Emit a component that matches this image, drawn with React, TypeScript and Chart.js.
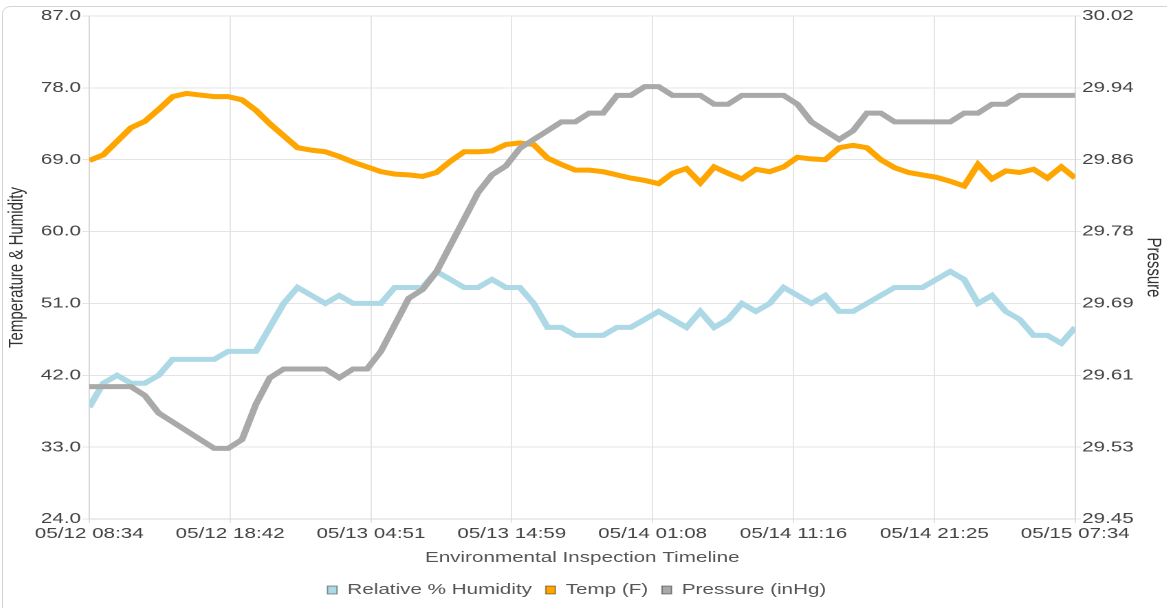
import React, { useEffect, useRef } from "react";
import { Chart, registerables } from "chart.js";

Chart.register(...registerables);

// Hourly readings, 05/12 08:34 .. 05/15 07:34
const humidity = [
  38, 41, 42, 41, 41, 42, 44, 44, 44, 44, 45, 45, 45, 48, 51, 53, 52, 51, 52, 51, 51, 51, 53, 53,
  53, 55, 54, 53, 53, 54, 53, 53, 51, 48, 48, 47, 47, 47, 48, 48, 49, 50, 49, 48, 50, 48, 49, 51,
  50, 51, 53, 52, 51, 52, 50, 50, 51, 52, 53, 53, 53, 54, 55, 54, 51, 52, 50, 49, 47, 47, 46, 48,
];

const temperature = [
  68.9, 69.6, 71.3, 73.0, 73.8, 75.3, 76.9, 77.3, 77.1, 76.9, 76.9, 76.5, 75.2, 73.5, 72.0, 70.5,
  70.2, 70.0, 69.4, 68.7, 68.1, 67.5, 67.2, 67.1, 66.9, 67.4, 68.8, 70.0, 70.0, 70.1, 70.9, 71.1,
  70.9, 69.2, 68.4, 67.7, 67.7, 67.5, 67.1, 66.7, 66.4, 66.0, 67.3, 67.9, 66.1, 68.1, 67.3, 66.6,
  67.8, 67.5, 68.1, 69.3, 69.1, 69.0, 70.5, 70.8, 70.5, 69.0, 68.0, 67.4, 67.1, 66.8, 66.3, 65.7,
  68.4, 66.6, 67.6, 67.4, 67.8, 66.7, 68.1, 66.7,
];

const pressure = [
  29.6, 29.6, 29.6, 29.6, 29.59, 29.57, 29.56, 29.55, 29.54, 29.53, 29.53, 29.54, 29.58, 29.61,
  29.62, 29.62, 29.62, 29.62, 29.61, 29.62, 29.62, 29.64, 29.67, 29.7, 29.71, 29.73, 29.76, 29.79,
  29.82, 29.84, 29.85, 29.87, 29.88, 29.89, 29.9, 29.9, 29.91, 29.91, 29.93, 29.93, 29.94, 29.94,
  29.93, 29.93, 29.93, 29.92, 29.92, 29.93, 29.93, 29.93, 29.93, 29.92, 29.9, 29.89, 29.88, 29.89,
  29.91, 29.91, 29.9, 29.9, 29.9, 29.9, 29.9, 29.91, 29.91, 29.92, 29.92, 29.93, 29.93, 29.93,
  29.93, 29.93,
];

const xTickLabels = [
  "05/12 08:34",
  "05/12 18:42",
  "05/13 04:51",
  "05/13 14:59",
  "05/14 01:08",
  "05/14 11:16",
  "05/14 21:25",
  "05/15 07:34",
];

const leftMin = 24;
const leftMax = 87;
const rightMin = 29.45;
const rightMax = 30.02;

const STRETCH = 1.375;
const CW = 858;
const CH = 603;

const FONT = "'Liberation Sans', Arial, Helvetica, sans-serif";

const shiftLegend = {
  id: "shiftLegend",
  afterUpdate(chart: any) {
    const l = chart.legend;
    if (l) {
      l.left -= 9.5;
      l.right -= 9.5;
    }
  },
};

export default function App() {
  const ref = useRef<HTMLCanvasElement>(null);

  useEffect(() => {
    const canvas = ref.current;
    if (!canvas) return;
    const toXY = (arr: number[]) => arr.map((v, i) => ({ x: i, y: v }));
    const gridColor = "#e4e4e4";
    const borderColor = "#d8d8d8";
    const tickColor = "#444";

    const chart = new Chart(canvas, {
      type: "line",
      data: {
        datasets: [
          {
            label: "Relative % Humidity",
            data: toXY(humidity),
            borderColor: "#add8e6",
            backgroundColor: "#add8e6",
            yAxisID: "y",
            order: 1,
          },
          {
            label: "Temp (F)",
            data: toXY(temperature),
            borderColor: "#ffa500",
            backgroundColor: "#ffa500",
            yAxisID: "y",
            order: 1,
          },
          {
            label: "Pressure (inHg)",
            data: toXY(pressure),
            borderColor: "#a9a9a9",
            backgroundColor: "#a9a9a9",
            yAxisID: "y1",
            order: 0,
          },
        ],
      },
      plugins: [shiftLegend],
      options: {
        responsive: false,
        animation: false,
        devicePixelRatio: 2,
        layout: { padding: { left: 7, right: 12.9, top: 0, bottom: 1.5 } },
        elements: {
          point: { radius: 0, hoverRadius: 0 },
          line: { borderWidth: 5, tension: 0 },
        },
        plugins: {
          tooltip: { enabled: false },
          legend: {
            position: "bottom",
            labels: {
              boxWidth: 7,
              boxHeight: 8,
              color: "#555",
              font: { family: FONT, size: 15 },
              sort: (a: any, b: any) => a.datasetIndex - b.datasetIndex,
              generateLabels: (c: any) =>
                Chart.defaults.plugins.legend.labels
                  .generateLabels(c)
                  .map((it: any) => ({
                    ...it,
                    lineWidth: 1,
                    strokeStyle: "rgba(0,0,0,0.4)",
                  })),
            },
          },
        },
        scales: {
          x: {
            type: "linear",
            min: 0,
            max: humidity.length - 1,
            ticks: {
              count: xTickLabels.length,
              maxRotation: 0,
              autoSkip: false,
              padding: 2,
              color: tickColor,
              font: { family: FONT, size: 15 },
              callback: (_v: any, i: number) => xTickLabels[i],
            },
            grid: { color: gridColor, tickLength: 4 },
            border: { color: borderColor },
            title: {
              display: true,
              text: "Environmental Inspection Timeline",
              color: "#555",
              font: { family: FONT, size: 15 },
              padding: { top: 4, bottom: 5.5 },
            },
          },
          y: {
            type: "linear",
            position: "left",
            min: leftMin,
            max: leftMax,
            ticks: {
              count: 8,
              padding: 1,
              color: tickColor,
              font: { family: FONT, size: 15 },
              callback: (v: any) => Number(v).toFixed(1),
            },
            grid: { color: gridColor, tickLength: 5 },
            border: { color: borderColor },
            title: {
              display: true,
              text: "Temperature & Humidity",
              color: "#333",
              font: { family: FONT, size: 15 },
              padding: { top: -6.55, bottom: 0 },
            },
            afterFit: (s: any) => {
              s.width = 55;
            },
          },
          y1: {
            type: "linear",
            position: "right",
            min: rightMin,
            max: rightMax,
            ticks: {
              count: 8,
              padding: 1,
              color: tickColor,
              font: { family: FONT, size: 15 },
              callback: (v: any) => Number(v).toFixed(2),
            },
            grid: { drawOnChartArea: false, color: gridColor, tickLength: 4 },
            border: { color: borderColor },
            title: {
              display: true,
              text: "Pressure",
              color: "#333",
              font: { family: FONT, size: 15 },
              padding: { top: 0.5, bottom: 0 },
            },
            afterFit: (s: any) => {
              s.width = 66.2;
            },
          },
        },
      } as any,
    });
    return () => chart.destroy();
  }, []);

  return (
    <div
      style={{
        position: "absolute",
        left: 0,
        top: 0,
        width: 1167,
        height: 608,
        overflow: "hidden",
        background: "#fff",
      }}
    >
      <div
        style={{
          position: "absolute",
          left: 2,
          top: 6,
          width: 1300,
          height: 800,
          border: "1px solid #d4d4d4",
          borderRadius: 8,
        }}
      />
      <canvas
        ref={ref}
        width={CW}
        height={CH}
        style={{
          position: "absolute",
          left: 4,
          top: 6,
          width: `${CW * STRETCH}px`,
          height: `${CH}px`,
        }}
      />
    </div>
  );
}
